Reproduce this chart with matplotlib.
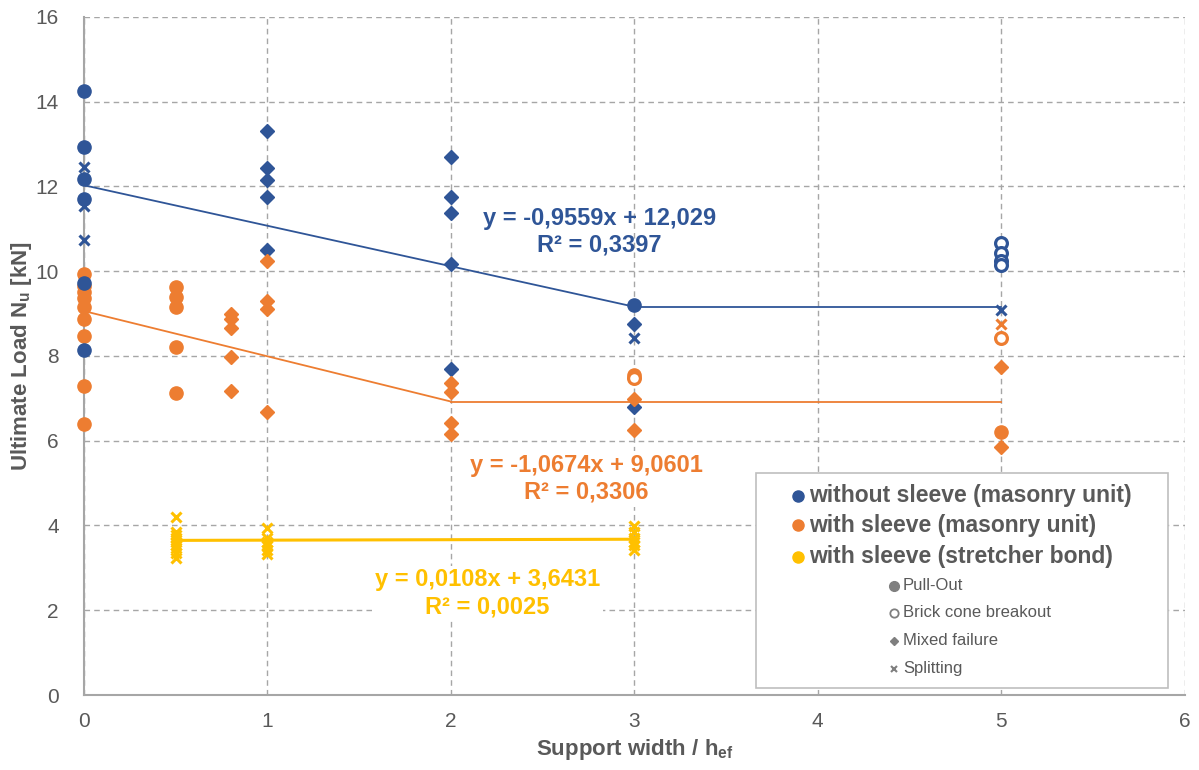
import matplotlib
matplotlib.use("Agg")
import matplotlib.pyplot as plt
from matplotlib.patches import Rectangle

plt.rcParams['font.family'] = ['Liberation Sans', 'DejaVu Sans']

BLUE = '#2F5597'
ORANGE = '#ED7D31'
YELLOW = '#FFC000'
GREY = '#595959'

# without sleeve (masonry unit)
blue_pull_x = [0, 0, 0, 0, 0, 0, 3]
blue_pull_y = [14.25, 12.92, 12.18, 11.70, 9.72, 8.13, 9.20]
blue_cone_x = [5, 5, 5, 5]
blue_cone_y = [10.66, 10.42, 10.23, 10.15]
blue_mixed_x = [1, 1, 1, 1, 1, 2, 2, 2, 2, 2, 3, 3]
blue_mixed_y = [13.32, 12.44, 12.15, 11.74, 10.49, 12.70, 11.74, 11.37, 10.16, 7.69, 8.75, 6.80]
blue_split_x = [0, 0, 0, 3, 5]
blue_split_y = [12.47, 11.54, 10.74, 8.42, 9.09]

# with sleeve (masonry unit)
orange_pull_x = [0, 0, 0, 0, 0, 0, 0, 0, 0, 0.5, 0.5, 0.5, 0.5, 0.5, 3, 5]
orange_pull_y = [9.93, 9.64, 9.50, 9.36, 9.16, 8.87, 8.48, 7.30, 6.40,
                 9.62, 9.38, 9.15, 8.22, 7.13, 7.55, 6.21]
orange_cone_x = [3, 5]
orange_cone_y = [7.47, 8.43]
orange_mixed_x = [0.8, 0.8, 0.8, 0.8, 0.8, 1, 1, 1, 1, 2, 2, 2, 2, 3, 3, 5, 5]
orange_mixed_y = [8.99, 8.87, 8.67, 7.97, 7.17, 10.25, 9.29, 9.10, 6.68,
                  7.36, 7.14, 6.41, 6.15, 6.98, 6.25, 7.73, 5.86]
orange_split_x = [5]
orange_split_y = [8.75]

# with sleeve (stretcher bond)
yellow_split_x = [0.5] * 9 + [1] * 6 + [3] * 6
yellow_split_y = [4.21, 3.85, 3.78, 3.70, 3.62, 3.55, 3.46, 3.34, 3.23,
                  3.95, 3.70, 3.62, 3.54, 3.42, 3.32,
                  3.99, 3.85, 3.70, 3.60, 3.54, 3.42]

# trend lines (slope, intercept)
blue_fit = (-0.9559, 12.029)
orange_fit = (-1.0674, 9.0601)
yellow_fit = (0.0108, 3.6431)

fig = plt.figure(figsize=(11.99, 7.70), dpi=100)
ax = fig.add_axes([0.070, 0.0974, 0.918, 0.8806])

ax.set_xlim(0, 6)
ax.set_ylim(0, 16)
ax.set_xticks(range(0, 7))
ax.set_yticks(range(0, 17, 2))
ax.grid(True, color='#A6A6A6', linestyle=(0, (4, 3)), linewidth=1)
ax.set_axisbelow(True)
for s in ['top', 'right']:
    ax.spines[s].set_visible(False)
for s in ['left', 'bottom']:
    ax.spines[s].set_color('#A6A6A6')
    ax.spines[s].set_linewidth(1.5)
ax.tick_params(axis='y', length=0, labelsize=15, colors=GREY, pad=18)
ax.tick_params(axis='x', length=0, labelsize=15, colors=GREY, pad=12)

# trend lines
m, b = blue_fit
ax.plot([0, 3], [b, m * 3 + b], color=BLUE, lw=1.3, zorder=2)
ax.plot([3, 5], [m * 3 + b, m * 3 + b], color=BLUE, lw=1.3, zorder=2)
m, b = orange_fit
ax.plot([0, 2], [b, m * 2 + b], color=ORANGE, lw=1.3, zorder=2)
ax.plot([2, 5], [m * 2 + b, m * 2 + b], color=ORANGE, lw=1.3, zorder=2)
m, b = yellow_fit
ax.plot([0.5, 3], [m * 0.5 + b, m * 3 + b], color=YELLOW, lw=2.2, zorder=2)


def pts(x, y, c, kind):
    if kind == 'pull':
        ax.plot(x, y, 'o', ms=9.5, color=c, ls='none', zorder=3, clip_on=False)
    elif kind == 'cone':
        ax.plot(x, y, 'o', ms=8.5, mfc='white', mec=c, mew=2.3, ls='none', zorder=3, clip_on=False)
    elif kind == 'mixed':
        ax.plot(x, y, 'D', ms=7, color=c, ls='none', zorder=3, clip_on=False)
    else:
        ax.plot(x, y, 'x', ms=7, mew=2.2, color=c, ls='none', zorder=3, clip_on=False)


pts(orange_pull_x, orange_pull_y, ORANGE, 'pull')
pts(blue_pull_x, blue_pull_y, BLUE, 'pull')
pts(blue_cone_x, blue_cone_y, BLUE, 'cone')
pts(blue_mixed_x, blue_mixed_y, BLUE, 'mixed')
pts(blue_split_x, blue_split_y, BLUE, 'split')
pts(orange_cone_x, orange_cone_y, ORANGE, 'cone')
pts(orange_mixed_x, orange_mixed_y, ORANGE, 'mixed')
pts(orange_split_x, orange_split_y, ORANGE, 'split')
pts(yellow_split_x, yellow_split_y, YELLOW, 'split')

# equations
ax.text(2.81, 10.94, 'y = -0,9559x + 12,029\nR² = 0,3397', color=BLUE, fontsize=17,
        fontweight='bold', ha='center', va='center', linespacing=1.2, zorder=4)
ax.text(2.74, 5.10, 'y = -1,0674x + 9,0601\nR² = 0,3306', color=ORANGE, fontsize=17,
        fontweight='bold', ha='center', va='center', linespacing=1.2, zorder=4,
        bbox=dict(facecolor='white', edgecolor='none', pad=2))
ax.text(2.20, 2.40, 'y = 0,0108x + 3,6431\nR² = 0,0025', color=YELLOW, fontsize=17,
        fontweight='bold', ha='center', va='center', linespacing=1.2, zorder=4,
        bbox=dict(facecolor='white', edgecolor='none', pad=2))

fig.text(635 / 1199, 1 - 749 / 770, 'Support width / h$_{\\mathregular{ef}}$', fontsize=16,
         fontweight='bold', color=GREY, ha='center', va='center')
fig.text(22 / 1199, 1 - 356 / 770, 'Ultimate Load N$_{\\mathregular{u}}$ [kN]', fontsize=16,
         fontweight='bold', color=GREY, ha='center', va='center', rotation=90)

# legend box
ax.add_patch(Rectangle((0.611, 0.0103), 0.374, 0.317, transform=ax.transAxes,
                       facecolor='white', edgecolor='#BFBFBF', lw=1.2, zorder=5))
series_leg = [(BLUE, 'without sleeve (masonry unit)', 0.294),
              (ORANGE, 'with sleeve (masonry unit)', 0.250),
              (YELLOW, 'with sleeve (stretcher bond)', 0.204)]
for c, lab, yy in series_leg:
    ax.plot([0.649], [yy], 'o', ms=8, color=c, transform=ax.transAxes, zorder=6, clip_on=False)
    ax.text(0.659, yy, lab, transform=ax.transAxes, fontsize=16.5, fontweight='bold',
            color=GREY, va='center', ha='left', zorder=6)
mode_leg = [('o', 'full', 'Pull-Out', 0.161),
            ('o', 'hollow', 'Brick cone breakout', 0.121),
            ('D', 'full', 'Mixed failure', 0.080),
            ('x', 'full', 'Splitting', 0.039)]
for mk, fill, lab, yy in mode_leg:
    if fill == 'hollow':
        ax.plot([0.736], [yy], mk, ms=6, mfc='white', mec='#7F7F7F', mew=1.3,
                transform=ax.transAxes, zorder=6)
    elif mk == 'x':
        ax.plot([0.736], [yy], mk, ms=5, mew=1.5, color='#7F7F7F',
                transform=ax.transAxes, zorder=6)
    elif mk == 'D':
        ax.plot([0.736], [yy], mk, ms=4.5, color='#7F7F7F',
                transform=ax.transAxes, zorder=6)
    else:
        ax.plot([0.736], [yy], mk, ms=7, color='#7F7F7F',
                transform=ax.transAxes, zorder=6)
    ax.text(0.744, yy, lab, transform=ax.transAxes, fontsize=12,
            color=GREY, va='center', ha='left', zorder=6)

fig.savefig('out.png', dpi=100)
